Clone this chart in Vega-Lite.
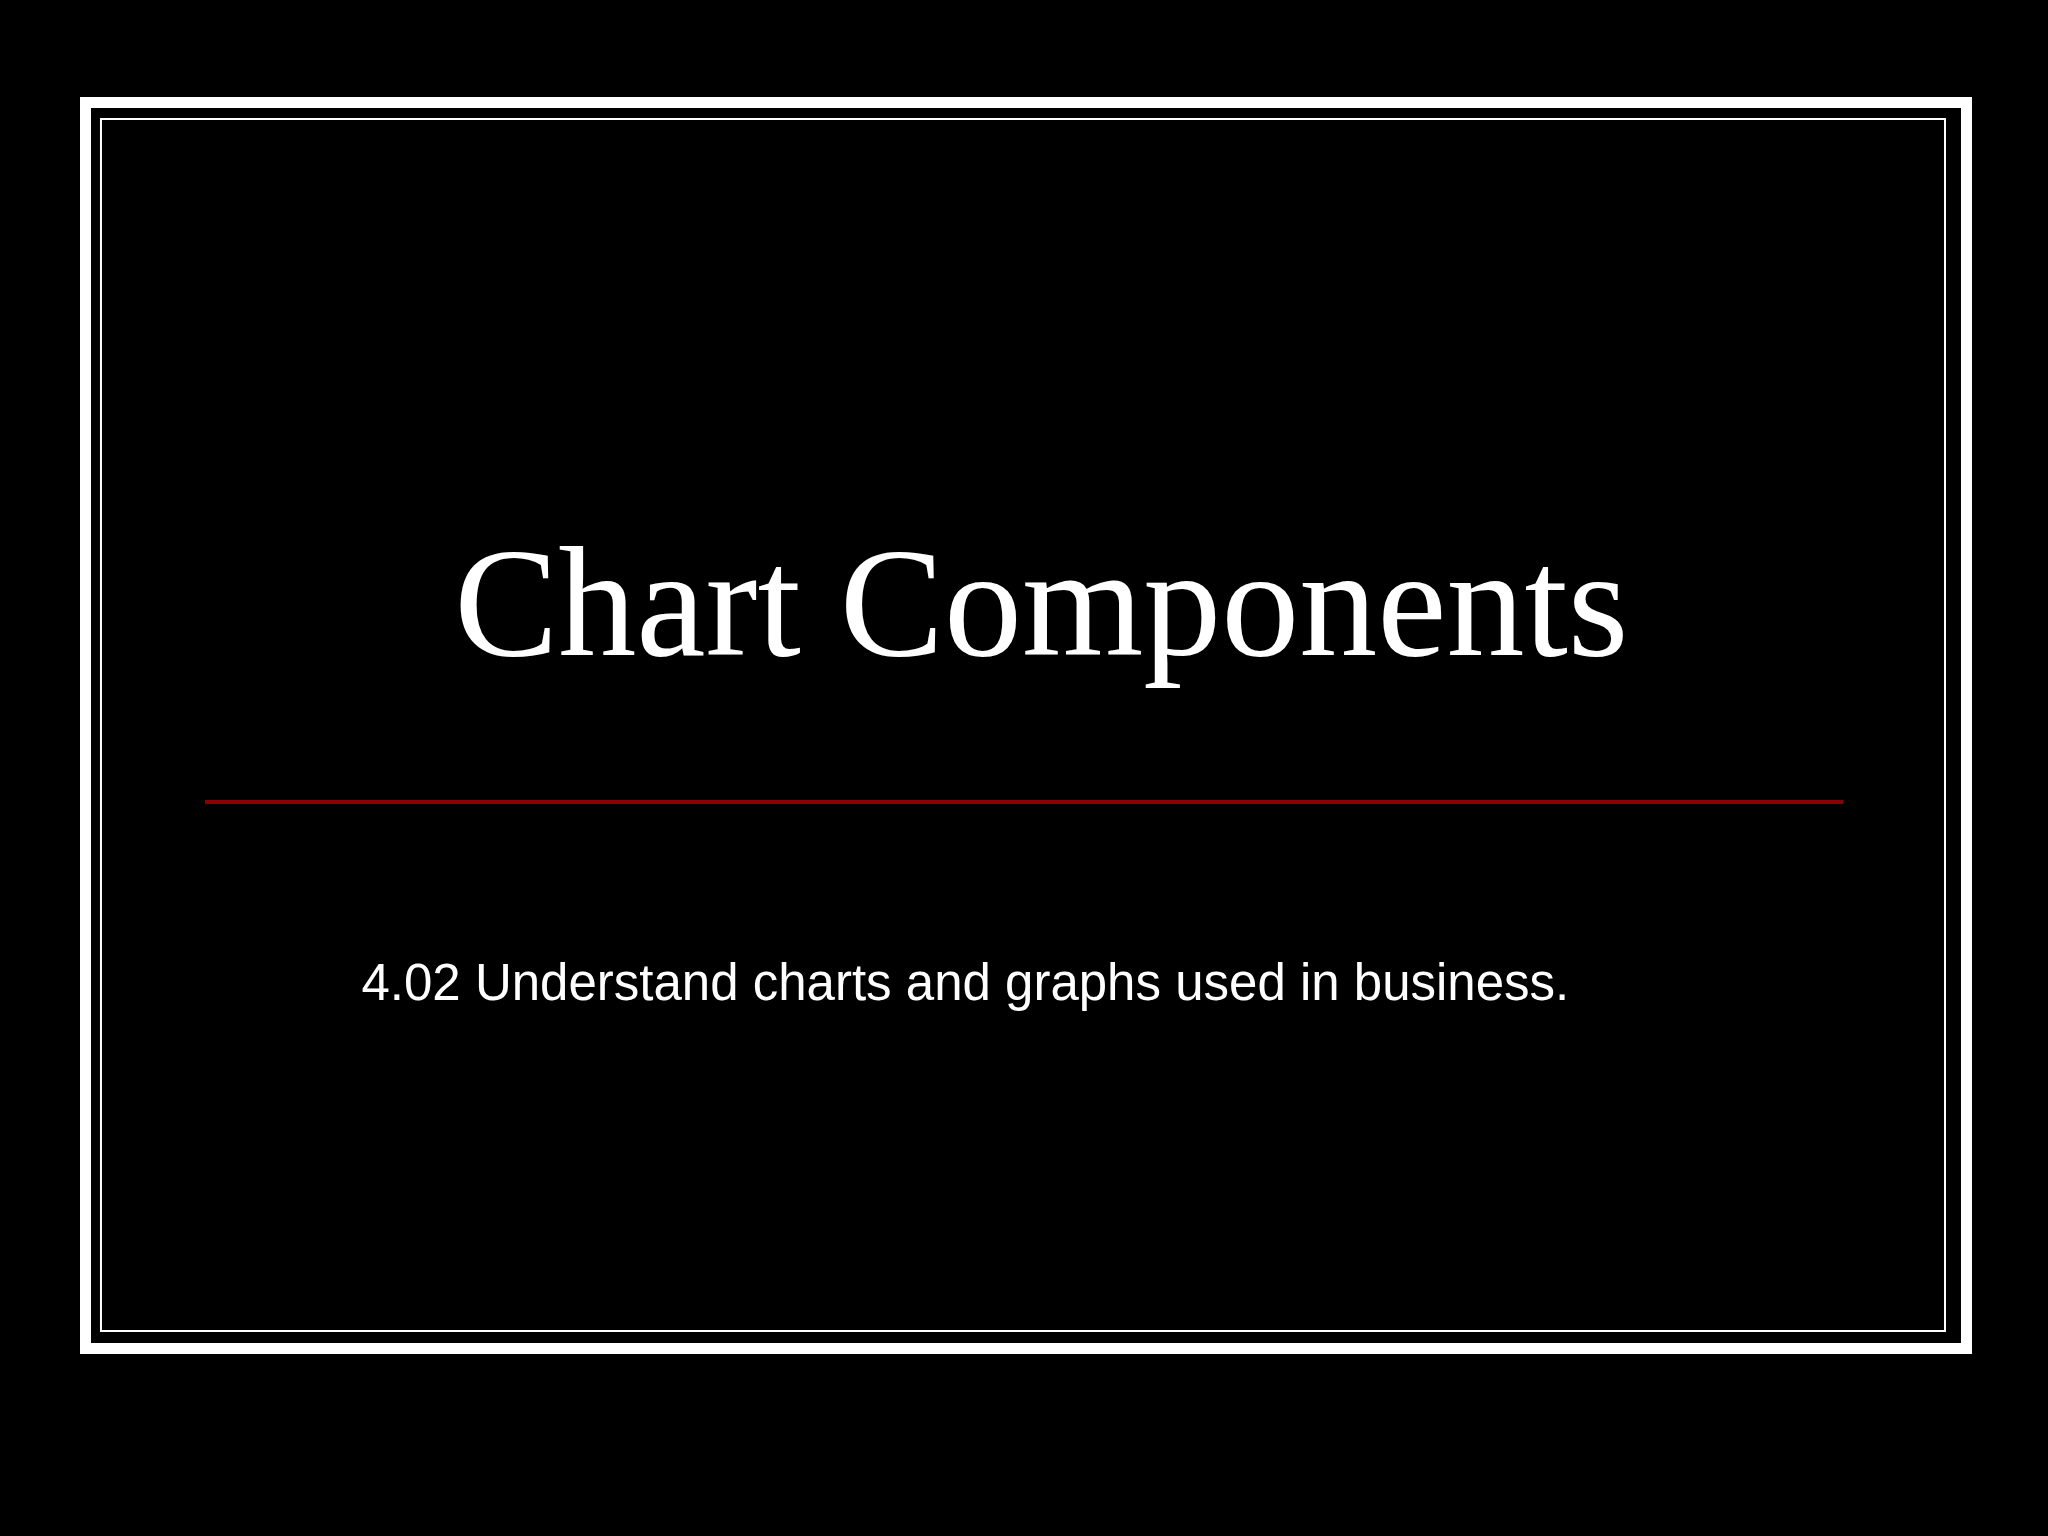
{
  "$schema": "https://vega.github.io/schema/vega-lite/v6.json",
  "width": 2048,
  "height": 1536,
  "autosize": {"type": "fit", "contains": "padding"},
  "padding": 0,
  "background": "#000000",
  "config": {"view": {"stroke": null}},
  "encoding": {
    "x": {"type": "quantitative", "scale": {"domain": [0, 10], "nice": false, "zero": false}, "axis": null},
    "y": {"type": "quantitative", "scale": {"domain": [0, 7.5], "nice": false, "zero": false, "reverse": true}, "axis": null}
  },
  "layer": [
    {
      "data": {"values": [{"left": 0.4175, "right": 9.602, "top": 0.5005, "bottom": 6.585}]},
      "mark": {"type": "rect", "filled": false, "stroke": "#ffffff", "strokeWidth": 11},
      "encoding": {
        "x": {"field": "left"}, "x2": {"field": "right"},
        "y": {"field": "top"}, "y2": {"field": "bottom"}
      }
    },
    {
      "data": {"values": [{"left": 0.493, "right": 9.497, "top": 0.581, "bottom": 6.499}]},
      "mark": {"type": "rect", "filled": false, "stroke": "#ffffff", "strokeWidth": 2},
      "encoding": {
        "x": {"field": "left"}, "x2": {"field": "right"},
        "y": {"field": "top"}, "y2": {"field": "bottom"}
      }
    },
    {
      "data": {"values": [{"start": 1.001, "end": 9.0, "level": 3.916}]},
      "mark": {"type": "rule", "color": "#8b0000", "strokeWidth": 4},
      "encoding": {
        "x": {"field": "start"}, "x2": {"field": "end"},
        "y": {"field": "level"}
      }
    },
    {
      "data": {"values": [{"label": "Chart Components", "px": 5.085, "py": 3.198}]},
      "mark": {"type": "text", "font": "Liberation Serif", "fontSize": 156, "color": "#ffffff", "align": "center", "baseline": "alphabetic"},
      "encoding": {
        "x": {"field": "px"}, "y": {"field": "py"},
        "text": {"field": "label"}
      }
    },
    {
      "data": {"values": [{"label": "4.02 Understand charts and graphs used in business.", "px": 1.765, "py": 4.883}]},
      "mark": {"type": "text", "font": "Liberation Sans", "fontSize": 51, "color": "#ffffff", "align": "left", "baseline": "alphabetic"},
      "encoding": {
        "x": {"field": "px"}, "y": {"field": "py"},
        "text": {"field": "label"}
      }
    }
  ]
}
